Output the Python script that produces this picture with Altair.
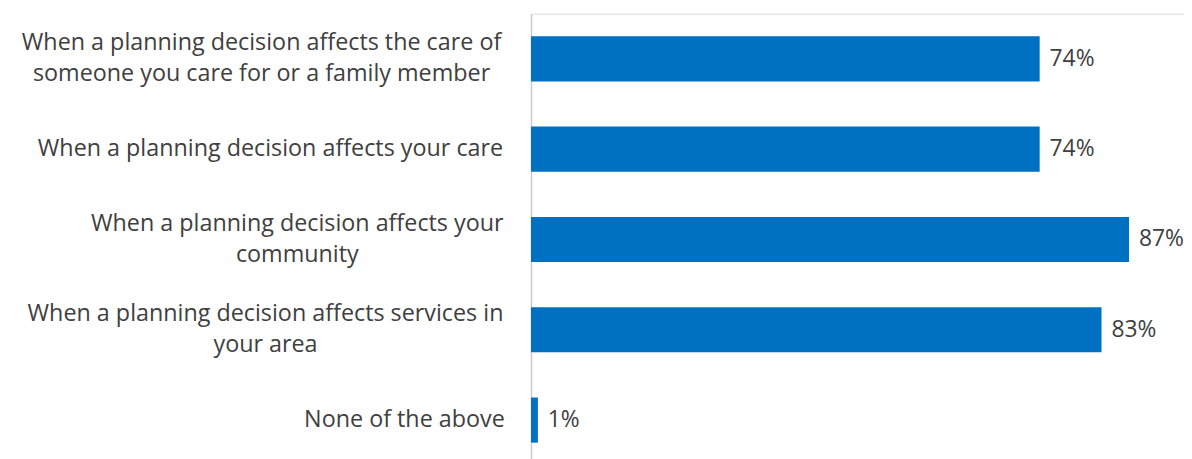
import altair as alt
import pandas as pd

categories = [
    "When a planning decision affects the care of|someone you care for or a family member",
    "When a planning decision affects your care",
    "When a planning decision affects your|community",
    "When a planning decision affects services in|your area",
    "None of the above",
]
values = [74, 74, 87, 83, 1]
labels = ["74%", "74%", "87%", "83%", "1%"]

df = pd.DataFrame({"cat": categories, "val": values, "lab": labels})

FONT = "Open Sans"
TXT = "#404040"

# half-widths of each label block, so multi-line labels are centred like the original
half_w = [247, 238, 211, 243, 103]
pad_cond = [
    {"test": f"datum.value == '{c}'", "value": 25 + h}
    for c, h in zip(categories, half_w)
]

y = alt.Y(
    "cat:N",
    sort=categories,
    title=None,
    scale=alt.Scale(paddingInner=0.5, paddingOuter=0.25),
    axis=alt.Axis(
        labelExpr="split(datum.label, '|')",
        labelFont=FONT,
        labelFontSize=23.5,
        labelColor=TXT,
        labelLineHeight=31,
        labelAlign="center",
        labelPadding={"condition": pad_cond, "value": 25},
        labelOffset={
            "condition": {"test": "indexof(datum.value, '|') >= 0", "value": -15.5},
            "value": 0,
        },
        labelLimit=700,
        ticks=False,
        domainColor="#cccccc",
        domainWidth=1.5,
        grid=False,
    ),
)
x = alt.X("val:Q", scale=alt.Scale(domain=[0, 95]), axis=None)

bars = alt.Chart(df).mark_bar(color="#0070c0").encode(x=x, y=y)
text = alt.Chart(df).mark_text(
    align="left", dx=10, font=FONT, fontSize=23, color=TXT
).encode(x=x, y=y, text="lab:N")

chart = (
    (bars + text)
    .properties(
        width=658,
        height=455,
        padding={"left": 527, "top": 4, "right": 0, "bottom": 0},
        autosize=alt.AutoSizeParams(type="none"),
    )
    .configure_view(stroke=None)
    .configure(background="white")
)

chart.save("out.html", embed_options={"renderer": "svg", "actions": False})
